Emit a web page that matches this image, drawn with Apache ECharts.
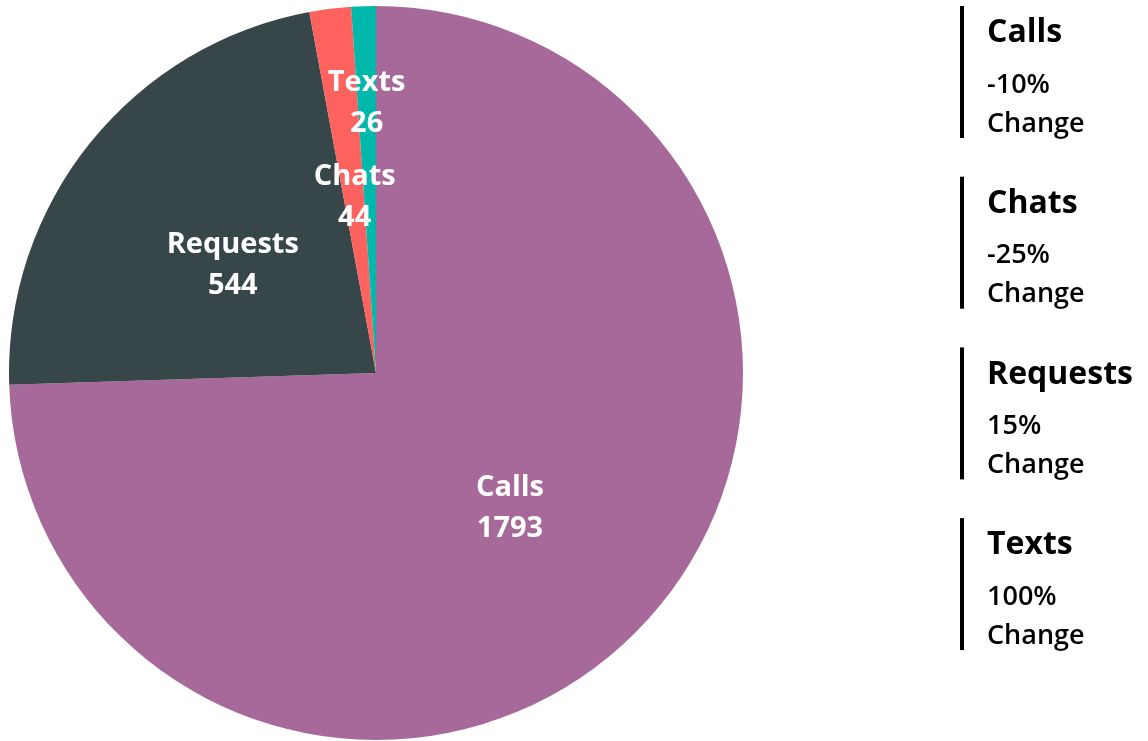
<!DOCTYPE html>
<html>
<head>
<meta charset="utf-8">
<script src="https://cdn.jsdelivr.net/npm/echarts@6/dist/echarts.min.js"></script>
<style>
html,body{margin:0;padding:0;background:#fff;}
#chart{width:1148px;height:741px;}
</style>
</head>
<body>
<div id="chart"></div>
<script>
const categories = ['Calls', 'Requests', 'Chats', 'Texts'];
const values = [1793, 544, 44, 26];
const colors = ['#A66999', '#374649', '#FD625E', '#01B8AA'];
const legendNames = ['Calls', 'Chats', 'Requests', 'Texts'];
const legendChanges = ['-10%', '-25%', '15%', '100%'];
const changeWord = 'Change';

const FONT = '"Open Sans", "Noto Sans", sans-serif';
const chart = echarts.init(document.getElementById('chart'));

const graphics = [];
legendNames.forEach((name, i) => {
  const top = 6 + i * 170.7;
  graphics.push({
    type: 'rect', x: 960, y: top,
    shape: { width: 4, height: 132 },
    style: { fill: '#000' }
  });
  graphics.push({
    type: 'text', x: 987, y: top + 27,
    style: { text: name, font: 'bold 32px ' + FONT, fill: '#000', textVerticalAlign: 'middle' }
  });
  graphics.push({
    type: 'text', x: 987, y: top + 79,
    style: { text: legendChanges[i], font: '600 27px ' + FONT, fill: '#000', textVerticalAlign: 'middle' }
  });
  graphics.push({
    type: 'text', x: 987, y: top + 118,
    style: { text: changeWord, font: '600 27px ' + FONT, fill: '#000', textVerticalAlign: 'middle' }
  });
});

chart.setOption({
  animation: false,
  graphic: graphics,
  series: [{
    type: 'pie',
    center: [376, 373],
    radius: [0, 367],
    startAngle: 90,
    clockwise: true,
    avoidLabelOverlap: false,
    itemStyle: { borderWidth: 0 },
    label: {
      show: true,
      position: 'inside',
      formatter: '{b}\n{c}',
      color: '#fff',
      fontFamily: FONT,
      fontWeight: 'bold',
      fontSize: 29,
      lineHeight: 41
    },
    labelLine: { show: false },
    labelLayout: function (params) {
      if (params.dataIndex === 3) return { dy: -83, dx: -3 };
      if (params.dataIndex === 0) return { dy: 5 };
      return { dy: 9, dx: 2 };
    },
    data: categories.map((c, i) => ({ name: c, value: values[i], itemStyle: { color: colors[i] } }))
  }]
});
</script>
</body>
</html>
